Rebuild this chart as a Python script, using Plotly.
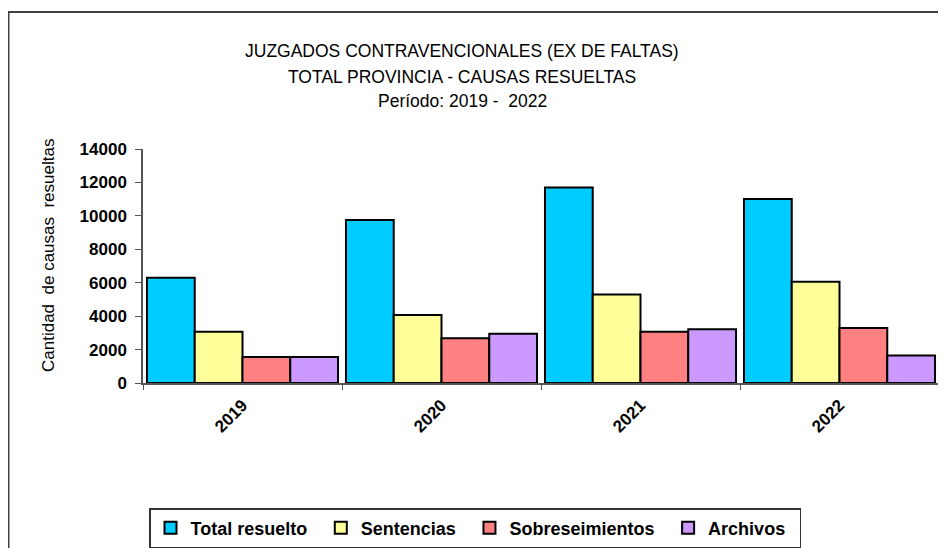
import plotly.graph_objects as go

years = ["2019", "2020", "2021", "2022"]
total_resuelto = [6300, 9750, 11690, 11010]
sentencias = [3070, 4070, 5300, 6060]
sobreseimientos = [1560, 2680, 3070, 3290]
archivos = [1560, 2950, 3210, 1640]

series_names = ["Total resuelto", "Sentencias", "Sobreseimientos", "Archivos"]
series_colors = ["#00CCFF", "#FFFF99", "#FF8080", "#CC99FF"]
series_values = [total_resuelto, sentencias, sobreseimientos, archivos]

y_ticks = [0, 2000, 4000, 6000, 8000, 10000, 12000, 14000]

title_lines = [
    "JUZGADOS CONTRAVENCIONALES (EX DE FALTAS)",
    "TOTAL PROVINCIA - CAUSAS RESUELTAS",
    "Período: 2019 -  2022",
]
y_title = "Cantidad\u00a0 de causas\u00a0 resueltas"

fig = go.Figure()
for name, color, vals in zip(series_names, series_colors, series_values):
    fig.add_trace(go.Bar(
        x=years, y=vals, name=name + "\u00a0\u2009",
        marker=dict(color=color, line=dict(color="black", width=2)),
    ))

OFF = 8  # default page body margin
SW, SH = 946, 548
W, H = SW - OFF, SH - OFF
# plot area in screen pixels
PX0, PX1, PY0, PY1 = 143, 939, 149, 383
L, R, T, B = PX0 - OFF, SW - PX1, PY0 - OFF, SH - PY1
pw, ph = PX1 - PX0, PY1 - PY0

def px(x):
    return (x - PX0) / pw

def py(y):
    return (PY1 - y) / ph

annotations = []
for line, yc in zip(title_lines, [51, 77, 101]):
    annotations.append(dict(
        text=line, xref="paper", yref="paper", x=px(462), y=py(yc),
        xanchor="center", yanchor="middle", showarrow=False,
        font=dict(family="Liberation Sans, Arial", size=17.5, color="black"),
    ))
annotations.append(dict(
    text=y_title, xref="paper", yref="paper", x=px(48), y=py(256),
    xanchor="center", yanchor="middle", showarrow=False, textangle=-90,
    font=dict(family="Liberation Sans, Arial", size=17, color="black"),
))

fig.update_layout(
    width=W, height=H,
    margin=dict(l=L, r=R, t=T, b=B, autoexpand=False),
    paper_bgcolor="white", plot_bgcolor="white",
    barmode="group", bargap=0.04, bargroupgap=0,
    font=dict(family="Liberation Sans, Arial", color="black"),
    xaxis=dict(
        showline=True, linecolor="#555555", linewidth=1.5,
        ticks="outside", tickson="boundaries", ticklen=5, tickcolor="#555555",
        tickangle=-45, ticklabelstandoff=4,
        tickfont=dict(size=17, family="Liberation Sans, Arial", weight="bold"),
        showgrid=False, zeroline=False,
    ),
    yaxis=dict(
        range=[0, 14000], tickvals=y_ticks, tickformat="d",
        showline=True, linecolor="#555555", linewidth=1.5,
        ticks="outside", ticklen=6, tickcolor="#555555", ticklabelstandoff=5,
        tickfont=dict(size=17, family="Liberation Sans, Arial", weight="bold"),
        showgrid=False, zeroline=False,
    ),
    legend=dict(
        orientation="h", x=px(149), xanchor="left", y=py(508), yanchor="top",
        bordercolor="#333333", borderwidth=1.5, bgcolor="white",
        font=dict(size=18, weight="bold"),
        itemwidth=30,
    ),
    annotations=annotations,
    shapes=[dict(
        type="rect", xref="paper", yref="paper",
        x0=px(8.5), x1=px(960), y0=py(560), y1=py(12),
        line=dict(color="#404040", width=2), fillcolor="rgba(0,0,0,0)", layer="below",
    )],
)

fig.write_html("out.html")
